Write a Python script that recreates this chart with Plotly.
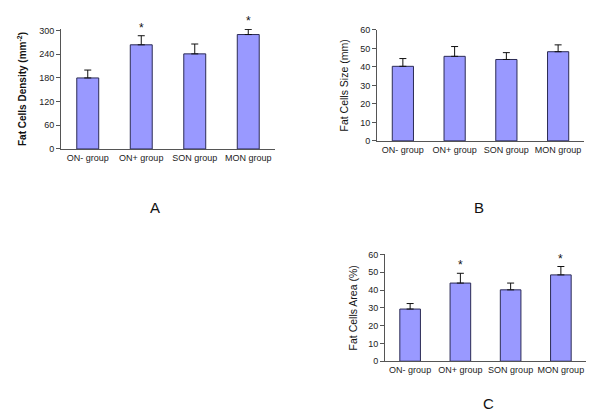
import plotly.graph_objects as go

groups = ["ON- group", "ON+ group", "SON group", "MON group"]

density_mean = [180, 264, 241, 290]
density_err = [20, 23, 25, 13]
density_sig = [False, True, False, True]

size_mean = [40.3, 45.7, 44.0, 48.2]
size_err = [4.2, 5.3, 3.7, 3.7]

area_mean = [29.3, 43.9, 40.1, 48.5]
area_err = [3.1, 5.5, 3.8, 4.7]
area_sig = [False, True, False, True]

BAR = "#9999FF"
EDGE = "#2b2b55"
FONT = "Liberation Sans, Arial, sans-serif"

fig = go.Figure()

def add_panel(n, means, errs, sig=None):
    xa = "x" if n == 1 else f"x{n}"
    ya = "y" if n == 1 else f"y{n}"
    fig.add_trace(go.Bar(x=groups, y=means, xaxis=xa, yaxis=ya, width=0.41,
                         marker=dict(color=BAR, line=dict(color=EDGE, width=1)),
                         showlegend=False, hoverinfo="skip"))
    fig.add_trace(go.Scatter(x=groups, y=means, xaxis=xa, yaxis=ya, mode="markers",
                             marker=dict(size=1, opacity=0), cliponaxis=False,
                             error_y=dict(type="data", array=errs, arrayminus=[0]*len(errs),
                                          symmetric=False, color="#111", thickness=1, width=3.5),
                             showlegend=False, hoverinfo="skip"))
    if sig is not None:
        for g, m, e, s in zip(groups, means, errs, sig):
            if s:
                fig.add_annotation(x=g, y=m + e, xref=xa, yref=ya, text="*", showarrow=False,
                                   yanchor="bottom", yshift=-1,
                                   font=dict(size=12, color="#111", family=FONT))

add_panel(1, density_mean, density_err, density_sig)
add_panel(2, size_mean, size_err)
add_panel(3, area_mean, area_err, area_sig)

def xax(dom, anchor):
    return dict(domain=dom, anchor=anchor, showline=True, linecolor="#555", linewidth=1,
                ticks="", showgrid=False, tickfont=dict(size=9, color="#222", family=FONT),
                zeroline=False, fixedrange=True)

def yax(dom, anchor, rng, dt, title, bold=False, size=10, standoff=10):
    t = f"<b>{title}</b>" if bold else title
    return dict(domain=dom, anchor=anchor, range=rng, tick0=0, dtick=dt, showline=True,
                linecolor="#555", linewidth=1, ticks="outside", ticklen=4, tickcolor="#555",
                showgrid=False, zeroline=False, tickfont=dict(size=9, color="#222", family=FONT),
                title=dict(text=t, font=dict(size=size, color="#111", family=FONT), standoff=standoff))

W, H = 600, 420
def px(a, b): return [a / W, b / W]
def py(top, bot): return [1 - bot / H, 1 - top / H]

fig.update_layout(
    width=W, height=H, margin=dict(l=0, r=0, t=0, b=0),
    paper_bgcolor="white", plot_bgcolor="white",
    font=dict(family=FONT),
    xaxis=xax(px(53, 267), "y"),
    yaxis=yax(py(16.4, 139.3), "x", [0, 304], 60, "Fat Cells Density (mm<sup>-2</sup>)",
              bold=True, size=10, standoff=10),
    xaxis2=xax(px(369, 576), "y2"),
    yaxis2=yax(py(17.3, 131), "x2", [0, 60], 10, "Fat Cells Size (mm)", size=10.5, standoff=9),
    xaxis3=xax(px(377, 578), "y3"),
    yaxis3=yax(py(247.3, 356.7), "x3", [0, 60], 10, "Fat Cells Area (%)", size=10.5, standoff=8),
)

for lab, x, y in [("A", 147, 199), ("B", 471, 199), ("C", 480, 400)]:
    fig.add_annotation(text=lab, x=x / W, y=1 - y / H, xref="paper", yref="paper",
                       showarrow=False, font=dict(size=15, color="#111", family=FONT),
                       xanchor="center", yanchor="middle")

fig.write_html("out.html")
